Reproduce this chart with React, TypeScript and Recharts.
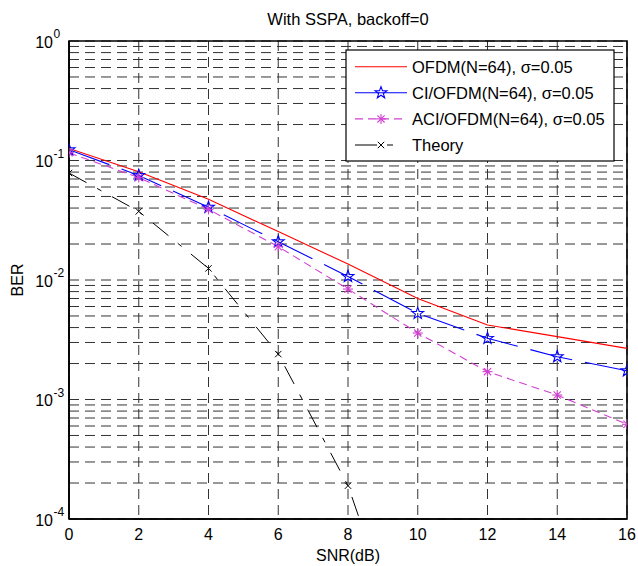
import React from 'react';
import { LineChart, Line, XAxis, YAxis, CartesianGrid, ReferenceArea } from 'recharts';

const snr = [0, 2, 4, 6, 8, 10, 12, 14, 16];
const ofdm = [0.126, 0.0805, 0.0473, 0.0254, 0.0136, 0.0070, 0.0042, 0.00336, 0.00268];
const ciOfdm = [0.123, 0.075, 0.0406, 0.0209, 0.0107, 0.00526, 0.00325, 0.00228, 0.00174];
const aciOfdm = [0.116, 0.072, 0.039, 0.019, 0.0084, 0.0036, 0.00171, 0.00109, 0.00062];
const theory = [0.0786, 0.0375, 0.0125, 0.0024, 0.00019, 0.0000039, null, null, null];

const xTicks = [0, 2, 4, 6, 8, 10, 12, 14, 16];
const yMajor = [1e-4, 1e-3, 1e-2, 1e-1, 1];
const yMantissas = [1, 2, 3, 4, 5, 6, 7, 8, 9];
const yTicks: number[] = [];
yMajor.slice(0, 4).forEach((d) => yMantissas.forEach((m) => yTicks.push(m * d)));
yTicks.push(1);

const seriesNames = ['OFDM(N=64), σ=0.05', 'CI/OFDM(N=64), σ=0.05', 'ACI/OFDM(N=64), σ=0.05', 'Theory'];
const RED = '#ff0000';
const BLUE = '#0000ff';
const MAG = '#d040d0';
const BLACK = '#000000';
const FONT = '"Liberation Sans", Arial, Helvetica, sans-serif';

const data = snr.map((s, i) => ({
  snr: s,
  ofdm: ofdm[i],
  ci: ciOfdm[i],
  aci: aciOfdm[i],
  theory: theory[i],
}));

function starPoints(cx: number, cy: number, R: number) {
  const r = R * 0.4;
  const pts: string[] = [];
  for (let k = 0; k < 10; k++) {
    const rad = k % 2 === 0 ? R : r;
    const a = -Math.PI / 2 + (k * Math.PI) / 5;
    pts.push(`${cx + rad * Math.cos(a)},${cy + rad * Math.sin(a)}`);
  }
  return pts.join(' ');
}

const StarMark = ({ cx, cy }: { cx: number; cy: number }) => (
  <polygon points={starPoints(cx, cy, 6.2)} fill="none" stroke={BLUE} strokeWidth={1.1} />
);

const AsteriskMark = ({ cx, cy }: { cx: number; cy: number }) => {
  const s = 5;
  const d = 3.6;
  return (
    <g stroke={MAG} strokeWidth={1.1}>
      <line x1={cx - s} y1={cy} x2={cx + s} y2={cy} />
      <line x1={cx} y1={cy - s} x2={cx} y2={cy + s} />
      <line x1={cx - d} y1={cy - d} x2={cx + d} y2={cy + d} />
      <line x1={cx - d} y1={cy + d} x2={cx + d} y2={cy - d} />
    </g>
  );
};

const XMark = ({ cx, cy }: { cx: number; cy: number }) => {
  const d = 3.2;
  return (
    <g stroke={BLACK} strokeWidth={1}>
      <line x1={cx - d} y1={cy - d} x2={cx + d} y2={cy + d} />
      <line x1={cx - d} y1={cy + d} x2={cx + d} y2={cy - d} />
    </g>
  );
};

const mkDot = (Comp: any) => (props: any) => {
  const { cx, cy, value, key, index } = props;
  const v = Array.isArray(value) ? value[1] : value;
  if (cx == null || cy == null || v == null || v < 1e-4) return <g key={key ?? index} />;
  return <Comp key={key ?? index} cx={cx} cy={cy} />;
};

const YTick = (props: any) => {
  const { x, y, payload } = props;
  const v = payload.value;
  const e = Math.log10(v);
  if (Math.abs(e - Math.round(e)) > 1e-6) return <g />;
  const exp = Math.round(e);
  return (
    <g fontFamily={FONT} fill="#000">
      <text x={53} y={y + 1} textAnchor="end" dominantBaseline="central" fontSize={16}>
        10
      </text>
      <text x={53.5} y={y - 7} textAnchor="start" dominantBaseline="central" fontSize={12}>
        {exp === 0 ? '0' : `-${-exp}`}
      </text>
    </g>
  );
};

const XLabel = (props: any) => {
  const vb = props.viewBox;
  return (
    <text x={vb.x + vb.width / 2} y={vb.y + 36} textAnchor="middle" dominantBaseline="central" fontSize={16} fontFamily={FONT} fill="#000">
      SNR(dB)
    </text>
  );
};

const YLabel = (props: any) => {
  const vb = props.viewBox;
  const cx = 17;
  const cy = vb.y + vb.height / 2;
  return (
    <text x={cx} y={cy} transform={`rotate(-90 ${cx} ${cy})`} textAnchor="middle" dominantBaseline="central" fontSize={16} fontFamily={FONT} fill="#000">
      BER
    </text>
  );
};

const legendRows = [
  { name: seriesNames[0], color: RED, dash: undefined as string | undefined, mark: null as any },
  { name: seriesNames[1], color: BLUE, dash: undefined, mark: StarMark },
  { name: seriesNames[2], color: MAG, dash: '8 5', mark: AsteriskMark },
  { name: seriesNames[3], color: BLACK, dash: '22 10 6 100', mark: XMark },
];

export default function App() {
  return (
    <div style={{ position: 'absolute', left: 0, top: 0, width: 638, height: 566, background: '#fff' }}>
      <LineChart
        width={638}
        height={566}
        data={data}
        margin={{ top: 41, right: 11, bottom: 17, left: 0 }}
        style={{ fontFamily: FONT }}
      >
        <CartesianGrid stroke="#333" strokeDasharray="10 6" strokeWidth={1} />
        <XAxis
          dataKey="snr"
          type="number"
          domain={[0, 16]}
          ticks={xTicks}
          allowDataOverflow
          height={30}
          tickSize={0}
          tickMargin={10}
          axisLine={{ stroke: '#000', strokeWidth: 1.6 }}
          tick={{ fontSize: 16, fill: '#000', fontFamily: FONT }}
          label={<XLabel />}
        />
        <YAxis
          type="number"
          scale="log"
          domain={[1e-4, 1]}
          ticks={yTicks}
          allowDataOverflow
          width={69}
          tickSize={0}
          tickMargin={0}
          interval={0}
          axisLine={{ stroke: '#000', strokeWidth: 1.6 }}
          tick={<YTick />}
          label={<YLabel />}
        />
        <Line dataKey="ofdm" name={seriesNames[0]} stroke={RED} strokeWidth={1.1} dot={false} isAnimationActive={false} />
        <Line dataKey="ci" name={seriesNames[1]} stroke={BLUE} strokeWidth={1.1} strokeDasharray="43 13" dot={mkDot(StarMark)} isAnimationActive={false} />
        <Line dataKey="aci" name={seriesNames[2]} stroke={MAG} strokeWidth={1.1} strokeDasharray="8 5" dot={mkDot(AsteriskMark)} isAnimationActive={false} />
        <Line dataKey="theory" name={seriesNames[3]} stroke={BLACK} strokeWidth={1} strokeDasharray="20 12 5 12" dot={mkDot(XMark)} isAnimationActive={false} />
        <ReferenceArea x1={0} x2={16} y1={1e-4} y2={1} fill="none" stroke="#000" strokeWidth={1.6} ifOverflow="visible" />
      </LineChart>
      <svg width={638} height={566} style={{ position: 'absolute', left: 0, top: 0, pointerEvents: 'none' }}>
        <text x={348} y={25} textAnchor="middle" fontSize={16.5} fontFamily={FONT} fill="#000">
          With SSPA, backoff=0
        </text>
        <rect x={346} y={50} width={268} height={111} fill="#fff" stroke="#000" strokeWidth={1.2} />
        {legendRows.map((r, i) => {
          const y = 66.7 + i * 26.1;
          const M = r.mark;
          return (
            <g key={r.name}>
              <line x1={355} y1={y} x2={407} y2={y} stroke={r.color} strokeWidth={1.1} strokeDasharray={r.dash} />
              {M ? <M cx={381} cy={y} /> : null}
              <text x={412} y={y} dominantBaseline="central" fontSize={16.5} fontFamily={FONT} fill="#000">
                {r.name}
              </text>
            </g>
          );
        })}
      </svg>
    </div>
  );
}
